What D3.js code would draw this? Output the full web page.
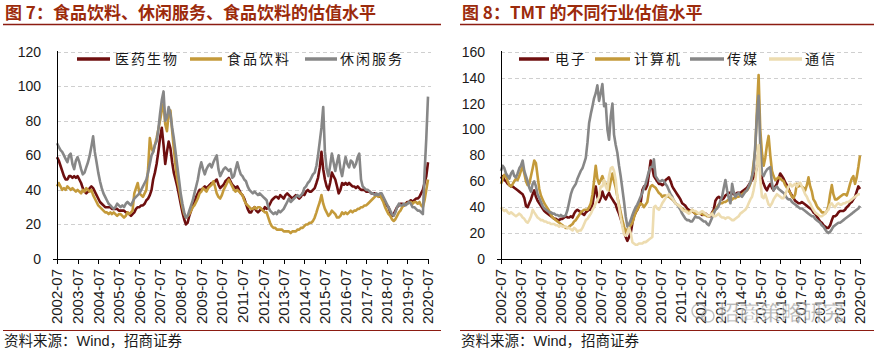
<!DOCTYPE html>
<html>
<head>
<meta charset="utf-8">
<script src="https://cdn.jsdelivr.net/npm/d3@7"></script>
<style>
  body { margin: 0; background: #fff; }
  svg { display: block; }
</style>
</head>
<body>
<svg id="chart" width="874" height="351"></svg>
<script>
// 月度数据 2002-07 ~ 2020-07
var months = d3.range(217).map(function(i) { return new Date(2002, 6 + i, 1); });
var yearTicks = d3.range(2002, 2021).map(function(y) { return new Date(y, 6, 1); });

// 图7
var yiyao = [
  59,57,54,51,48,46,46,48,48,47,48,47,
  48,46,44,41,39,38,39,41,42,41,39,37,
  35,33,32,31,30,30,30,30,29,29,29,29,
  28,28,28,28,27,27,26,25,26,27,29,30,
  30,31,31,32,34,35,37,40,46,50,55,62,
  70,76,66,55,62,68,64,56,50,46,42,37,
  32,27,23,20,21,25,28,31,33,36,38,40,
  40,41,42,41,42,43,44,44,45,46,43,41,
  42,43,45,46,47,45,43,42,41,42,40,38,
  37,35,32,29,27,27,29,30,28,27,28,29,
  28,30,29,30,32,34,35,36,36,35,37,36,
  35,37,38,37,36,35,36,37,36,35,36,38,
  37,39,40,39,39,40,41,44,47,53,62,52,
  46,42,40,44,50,48,46,42,38,40,44,43,
  44,43,44,43,42,42,41,42,41,40,40,40,
  39,39,39,38,38,38,37,37,36,36,35,33,
  31,30,27,25,26,28,30,31,32,32,31,32,
  33,33,34,33,34,35,35,36,38,40,44,48,
  56
];
var shipin = [
  42,44,42,40,41,40,42,41,40,41,40,39,
  40,39,38,40,39,41,40,39,40,37,35,33,
  31,30,29,28,27,27,26,27,26,27,26,25,
  26,26,25,24,25,27,26,27,28,38,41,44,
  38,37,36,38,40,52,70,64,62,66,70,75,
  80,86,90,78,74,84,86,74,64,54,46,41,
  35,30,26,24,25,26,28,30,31,33,35,38,
  39,41,40,39,41,42,43,45,42,38,36,35,
  37,40,42,44,46,44,42,40,39,40,39,38,
  37,34,32,31,30,29,29,30,29,30,30,29,
  28,27,27,24,21,19,18,18,17,17,17,17,
  16,16,16,16,15,16,16,16,17,17,18,18,
  19,20,20,21,21,22,24,27,30,33,37,32,
  29,27,25,26,28,27,26,24,24,25,27,26,
  27,26,27,28,27,28,28,29,29,30,30,31,
  31,32,33,34,35,36,37,36,37,35,33,30,
  28,26,25,23,22,23,25,27,28,30,31,32,
  32,33,33,32,33,33,32,33,31,30,34,40,
  46
];
var xiuxian = [
  67,65,63,62,60,58,56,60,61,55,52,57,
  59,56,52,49,50,53,56,60,65,71,62,56,
  50,45,41,38,36,34,32,31,30,29,30,32,
  31,30,31,30,32,33,32,31,33,35,36,37,
  38,40,42,44,46,50,55,60,62,66,68,75,
  84,92,97,80,82,88,84,76,70,62,54,46,
  38,32,27,24,25,28,31,34,38,42,46,52,
  56,52,49,52,54,55,53,56,58,60,52,48,
  50,52,53,52,51,52,47,48,52,56,52,49,
  48,46,45,42,40,39,38,39,38,37,38,37,
  36,35,34,30,28,27,26,27,26,28,27,28,
  29,31,33,35,33,34,35,36,37,36,37,38,
  41,42,44,45,47,49,50,54,60,68,76,88,
  62,52,48,54,61,56,51,56,60,52,48,54,
  59,55,53,57,56,53,55,59,61,46,42,41,
  40,40,39,38,38,37,38,37,38,38,36,34,
  32,30,28,26,25,27,30,32,31,31,32,31,
  32,33,32,30,30,29,28,28,27,26,50,70,
  94
];

// 图8
var dianzi = [
  62,64,61,60,58,57,56,56,55,54,53,52,
  51,50,47,41,40,43,46,50,53,48,45,43,
  41,39,37,36,35,34,33,32,31,31,30,30,
  31,31,32,33,32,32,33,32,35,37,38,37,
  36,35,34,36,37,38,38,42,50,56,48,44,
  47,52,48,46,49,51,48,46,44,42,38,35,
  31,27,22,17,14,17,20,28,33,36,38,41,
  43,53,56,54,57,66,76,70,64,62,60,58,
  58,57,58,61,62,63,60,56,54,52,50,48,
  46,43,42,41,39,38,37,37,36,35,35,35,
  35,34,35,35,34,33,33,36,38,45,47,48,
  47,46,47,49,50,51,51,51,50,50,51,51,
  51,52,53,54,55,57,59,61,63,66,71,84,
  74,62,58,55,53,56,58,55,53,56,58,62,
  66,64,62,59,57,54,51,49,47,45,44,43,
  43,44,43,42,41,40,39,38,36,35,33,31,
  29,28,26,25,24,24,26,30,33,33,34,36,
  37,37,37,38,40,41,43,44,46,48,52,56,
  54
];
var jisuanji = [
  58,62,65,64,60,57,56,58,60,62,61,64,
  68,71,66,60,57,58,64,70,76,74,64,54,
  49,46,43,41,39,37,34,32,31,30,29,28,
  27,26,25,24,24,25,26,27,29,30,32,34,
  36,37,38,38,38,40,43,50,60,72,62,58,
  61,64,60,58,55,53,60,66,60,55,48,42,
  36,30,25,21,23,24,26,28,32,36,38,41,
  43,42,40,42,44,52,56,57,56,55,53,51,
  50,48,49,49,48,48,47,46,45,43,42,41,
  40,39,38,37,37,36,37,38,36,35,35,35,
  35,35,34,34,33,33,34,35,37,38,40,42,
  43,43,44,44,45,46,45,46,47,47,48,48,
  49,50,51,52,53,55,58,64,74,84,115,142,
  100,82,72,78,88,95,80,68,64,61,62,63,
  62,61,60,57,55,53,51,48,47,50,58,56,
  57,56,55,53,57,63,56,52,46,44,41,39,
  38,36,36,35,37,41,50,57,50,46,46,47,
  48,49,50,50,49,53,58,62,64,58,63,71,
  80
];
var chuanmei = [
  68,72,70,66,64,62,66,68,64,63,66,70,
  72,76,68,64,60,55,52,58,60,56,50,47,
  44,41,39,38,37,36,36,35,35,34,34,33,
  34,33,33,34,38,44,50,54,56,58,62,65,
  68,70,74,78,90,105,112,118,124,128,134,122,
  128,135,118,120,100,92,110,120,96,88,82,72,
  64,54,44,33,25,27,30,34,37,40,42,45,
  48,51,55,58,63,68,71,71,77,64,62,60,
  60,61,60,58,56,53,50,48,45,43,42,40,
  38,35,33,31,30,30,29,29,31,33,32,32,
  31,30,29,29,27,26,29,32,35,38,39,41,
  45,48,55,61,53,47,43,58,52,48,50,51,
  49,48,50,52,53,56,59,64,69,88,110,126,
  88,66,64,67,69,70,71,58,53,55,56,54,
  53,52,51,49,47,46,46,44,43,42,41,40,
  39,39,38,37,36,35,34,33,33,31,30,29,
  28,26,25,23,21,20,21,23,25,26,27,28,
  28,29,30,31,32,33,34,35,36,37,38,39,
  41
];
var tongxin = [
  40,38,37,38,36,35,36,35,34,33,34,35,
  34,32,31,29,28,30,33,38,36,34,32,31,
  30,30,29,29,28,28,27,27,27,26,26,25,
  26,25,25,25,24,24,23,22,24,23,21,22,
  22,24,27,30,31,33,35,38,40,43,45,48,
  56,56,61,56,53,64,70,71,68,61,48,40,
  32,25,19,18,20,24,20,13,12,11,11,12,
  12,12,13,13,14,15,16,17,40,41,39,38,
  40,43,45,47,49,50,48,47,45,43,42,41,
  40,38,37,37,36,35,36,38,37,37,36,35,
  36,37,36,35,34,33,34,35,33,33,34,35,
  33,32,32,31,32,32,31,30,30,31,32,33,
  35,36,37,38,40,43,46,48,53,60,72,88,
  62,48,47,50,46,42,41,43,46,48,50,49,
  48,47,47,50,53,56,58,56,57,58,56,58,
  59,56,53,50,48,45,43,40,38,36,35,34,
  33,33,34,35,37,38,42,43,41,40,42,43,
  42,42,43,43,44,44,45,46,47,48,49,50,
  50
];

var yTicks7 = [0, 20, 40, 60, 80, 100, 120];
var yTicks8 = [0, 20, 40, 60, 80, 100, 120, 140, 160];

var svg = d3.select("#chart");
var cjk = "'Noto Sans CJK SC', 'Noto Sans', sans-serif";
var latin = "Arial, 'Liberation Sans', sans-serif";

// 标题和来源
function drawFrame(cfg) {
  svg.append("text")
    .attr("x", cfg.titleX).attr("y", 19)
    .attr("fill", "#9c2b0c")
    .style("font-family", cjk)
    .style("font-weight", "bold")
    .style("font-size", "17px")
    .text(cfg.title);

  svg.append("line")
    .attr("x1", cfg.lineX1).attr("x2", cfg.lineX2)
    .attr("y1", 24.5).attr("y2", 24.5)
    .attr("stroke", "#8c1c12").attr("stroke-width", 1.3);

  svg.append("line")
    .attr("x1", cfg.lineX1).attr("x2", cfg.lineX2)
    .attr("y1", 330.5).attr("y2", 330.5)
    .attr("stroke", "#8c1c12").attr("stroke-width", 1.1);

  var src = svg.append("text")
    .attr("x", cfg.titleX - 1).attr("y", 346)
    .attr("fill", "#1a1a1a")
    .style("font-family", cjk)
    .style("font-size", "14.5px");
  src.append("tspan").text("资料来源：");
  src.append("tspan").style("font-family", latin).text("Wind");
  src.append("tspan").text("，招商证券");
}

function drawPanel(cfg) {
  var x = d3.scaleTime()
    .domain([months[0], months[months.length - 1]])
    .range([cfg.x0, cfg.x1]);
  var y = d3.scaleLinear()
    .domain([0, cfg.yMax])
    .range([259, 51.7]);

  var g = svg.append("g");

  // 网格线
  g.selectAll(".grid")
    .data(cfg.yTicks.slice(1))
    .enter().append("line")
      .attr("x1", cfg.x0).attr("x2", cfg.gridEnd)
      .attr("y1", function(d) { return Math.round(y(d)) + 0.5; })
      .attr("y2", function(d) { return Math.round(y(d)) + 0.5; })
      .attr("stroke", "#cfcfcf")
      .attr("stroke-width", 1)
      .attr("stroke-dasharray", "4,3");

  // Y轴标签
  g.selectAll(".ylab")
    .data(cfg.yTicks)
    .enter().append("text")
      .attr("x", cfg.x0 - 16)
      .attr("y", function(d) { return y(d); })
      .attr("dy", "0.36em")
      .attr("text-anchor", "end")
      .attr("fill", "#1a1a1a")
      .style("font-family", latin)
      .style("font-size", "14px")
      .text(function(d) { return d; });

  // 折线
  var line = d3.line()
    .x(function(d, i) { return x(months[i]); })
    .y(function(d) { return y(d); });

  cfg.series.forEach(function(s) {
    g.append("path")
      .datum(s.values)
      .attr("fill", "none")
      .attr("stroke", s.color)
      .attr("stroke-width", 2.6)
      .attr("stroke-linejoin", "round")
      .attr("d", line);
  });

  // 坐标轴
  g.append("line")
    .attr("x1", cfg.x0 + 0.5).attr("x2", cfg.x0 + 0.5)
    .attr("y1", 51).attr("y2", 264)
    .attr("stroke", "#000").attr("stroke-width", 1);
  g.append("line")
    .attr("x1", cfg.x0 - 4).attr("x2", cfg.x1 + 0.5)
    .attr("y1", 259.5).attr("y2", 259.5)
    .attr("stroke", "#000").attr("stroke-width", 1);

  g.selectAll(".xtick")
    .data(yearTicks)
    .enter().append("line")
      .attr("x1", function(d) { return Math.round(x(d)) + 0.5; })
      .attr("x2", function(d) { return Math.round(x(d)) + 0.5; })
      .attr("y1", 259).attr("y2", 264)
      .attr("stroke", "#000").attr("stroke-width", 1);

  var fmt = d3.timeFormat("%Y-%m");
  g.selectAll(".xlab")
    .data(yearTicks)
    .enter().append("text")
      .attr("transform", function(d) { return "translate(" + x(d) + ",269) rotate(-90)"; })
      .attr("dy", "0.36em")
      .attr("text-anchor", "end")
      .attr("fill", "#1a1a1a")
      .style("font-family", latin)
      .style("font-size", "15px")
      .text(function(d) { return fmt(d); });

  // 图例
  cfg.series.forEach(function(s, i) {
    var lx = cfg.legend[i];
    g.append("line")
      .attr("x1", lx[0]).attr("x2", lx[1])
      .attr("y1", 59).attr("y2", 59)
      .attr("stroke", s.color)
      .attr("stroke-width", 3.5);
    g.append("text")
      .attr("x", lx[2]).attr("y", 59)
      .attr("dy", "0.36em")
      .attr("fill", "#1a1a1a")
      .attr("letter-spacing", "2px")
      .style("font-family", cjk)
      .style("font-size", "14px")
      .text(s.name);
  });
}

drawFrame({ title: "图 7：食品饮料、休闲服务、食品饮料的估值水平", titleX: 5, lineX1: 3, lineX2: 441 });
drawFrame({ title: "图 8：TMT 的不同行业估值水平", titleX: 462, lineX1: 460, lineX2: 874 });

drawPanel({
  x0: 57, x1: 428, gridEnd: 431, yMax: 120, yTicks: yTicks7,
  series: [
    { name: "医药生物", values: yiyao, color: "#6e0f0f" },
    { name: "食品饮料", values: shipin, color: "#c49a3a" },
    { name: "休闲服务", values: xiuxian, color: "#878787" }
  ],
  legend: [[77, 110, 115], [190, 222, 227], [305, 337, 340]]
});

drawPanel({
  x0: 501, x1: 860, gridEnd: 862, yMax: 160, yTicks: yTicks8,
  series: [
    { name: "电子", values: dianzi, color: "#6e0f0f" },
    { name: "计算机", values: jisuanji, color: "#c49a3a" },
    { name: "传媒", values: chuanmei, color: "#878787" },
    { name: "通信", values: tongxin, color: "#eddcb0" }
  ],
  legend: [[519, 549, 555], [595, 630, 634], [690, 724, 727], [769, 802, 805]]
});

// 水印
var wm = svg.append("g").attr("opacity", 0.6);
wm.append("circle").attr("cx", 699).attr("cy", 311).attr("r", 7)
  .attr("fill", "none").attr("stroke", "#9a9a9a").attr("stroke-width", 1.5);
wm.append("circle").attr("cx", 708).attr("cy", 316).attr("r", 6)
  .attr("fill", "none").attr("stroke", "#9a9a9a").attr("stroke-width", 1.5);
wm.append("text")
  .attr("x", 718).attr("y", 320)
  .attr("fill", "#8a8a8a")
  .attr("stroke", "#ffffff").attr("stroke-width", 0.8)
  .style("font-family", cjk)
  .style("font-weight", "bold")
  .style("font-size", "21px")
  .text("招商策略研究");
</script>
</body>
</html>
